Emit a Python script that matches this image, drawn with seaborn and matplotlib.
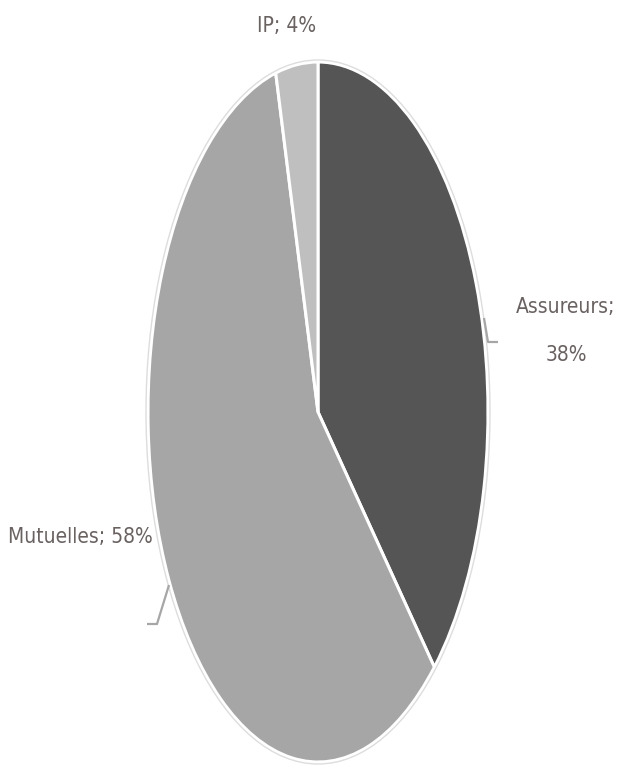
import matplotlib
matplotlib.use("Agg")
import matplotlib.pyplot as plt
from matplotlib import font_manager
from matplotlib.patches import Ellipse
import seaborn as sns

# Market share by type of organism
categories = ["Assureurs", "Mutuelles", "IP"]
shares = [38, 58, 4]
colors = ["#555555", "#a6a6a6", "#bfbfbf"]

sns.set_theme(style="white")
plt.rcParams["font.family"] = ["DejaVu Sans"]

# prefer a narrow face for the labels when one is available
font_kw = dict(family="DejaVu Sans", fontsize=13.5)
for fam, stretch, size, key in [("Liberation Sans Narrow", "normal", 18, "narrow"),
                                ("DejaVu Sans", "condensed", 15, "condensed")]:
    try:
        path = font_manager.findfont(
            font_manager.FontProperties(family=fam, stretch=stretch),
            fallback_to_default=False)
    except ValueError:
        continue
    if key in path.lower():
        font_kw = dict(family=fam, fontstretch=stretch, fontsize=size)
        break

W, H = 619, 769
fig = plt.figure(figsize=(W / 100, H / 100), dpi=100)
ax = fig.add_axes([0, 0, 1, 1])

# the pie is drawn as a unit circle, then squeezed into an ellipse by the axis limits
cx, cy, rx, ry = 318, 412, 170, 350


def px(x, y):
    return (x - cx) / rx, (cy - y) / ry


ax.pie(shares, colors=colors, startangle=90, counterclock=False,
       wedgeprops=dict(edgecolor="white", linewidth=2.2))
ax.set_aspect("auto")
ax.set_xlim(-cx / rx, (W - cx) / rx)
ax.set_ylim(-(H - cy) / ry, cy / ry)
ax.axis("off")

# faint outer rim
ax.add_patch(Ellipse((0, 0), 2 + 4 / rx, 2 + 4 / ry, fill=False,
                     edgecolor="#dddddd", linewidth=1.0))

txt = dict(color="#696261", ha="center", va="center", **font_kw)

ax.text(*px(287, 26), f"{categories[2]}; {shares[2]}%", **txt)
ax.text(*px(566, 307), f"{categories[0]};", **txt)
ax.text(*px(566, 355), f"{shares[0]}%", **txt)
ax.text(*px(80, 537), f"{categories[1]}; {shares[1]}%", **txt)

# leader lines
lc = dict(color="#a6a6a6", linewidth=1.6, solid_capstyle="butt")
ax.plot(*zip(px(484, 318), px(488, 342), px(498, 342)), **lc)
ax.plot(*zip(px(169, 585), px(157, 624), px(147, 624)), **lc)

fig.savefig("out.png", dpi=100, facecolor="white")
